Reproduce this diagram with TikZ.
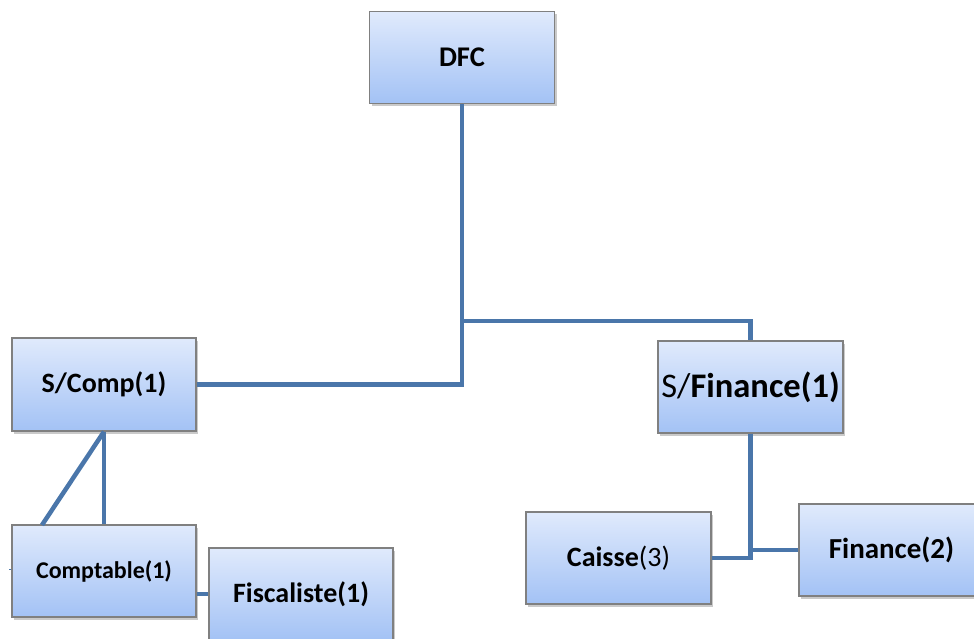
\documentclass[tikz,border=0pt]{standalone}
\usepackage{fontspec}
\setmainfont{Carlito}
\usetikzlibrary{shadows}
\definecolor{linkc}{HTML}{4A76AA}
\definecolor{boxtop}{HTML}{E0EAFC}
\definecolor{boxbot}{HTML}{A3C2F5}
\definecolor{boxline}{HTML}{808080}
\tikzset{
  orgbox/.style={draw=boxline, line width=1.2pt, top color=boxtop, bottom color=boxbot,
    minimum width=185pt, minimum height=92pt, inner sep=0pt, align=center,
    drop shadow={shadow xshift=2pt, shadow yshift=-3pt, opacity=0.35, fill=black!60}},
  link/.style={draw=linkc, line width=4.5pt},
}
\begin{document}
\begin{tikzpicture}[x=1pt,y=-1pt]
\useasboundingbox (0,0) rectangle (974,639);
\clip (0,0) rectangle (974,639);
\node[orgbox] (dfc) at (462,57.5) {\fontsize{28.5}{32}\selectfont\bfseries DFC};
\node[orgbox, minimum width=184pt, minimum height=93pt] (scomp) at (104,384.5) {\fontsize{28}{32}\selectfont\bfseries S/Comp(1)};
\node[orgbox, minimum width=184pt] (compt) at (104,571) {\fontsize{24}{28}\selectfont\bfseries Comptable(1)};
\node[orgbox, minimum width=184pt] (fisc) at (301,594) {\fontsize{28}{32}\selectfont\bfseries Fiscaliste(1)};
\node[orgbox] (sfin) at (750.5,387) {\fontsize{34.5}{40}\selectfont S/\textbf{Finance(1)}};
\node[orgbox] (caisse) at (618.5,558) {\fontsize{28}{32}\selectfont\textbf{Caisse}(3)};
\node[orgbox] (fin) at (891.5,550) {\fontsize{29}{34}\selectfont\bfseries Finance(2)};
\coordinate (j1) at (463,321);
\coordinate (d1) at (42,525);
\coordinate (stub) at (9,569);
\draw[link] (dfc.south) |- (scomp.east);
\draw[link] (j1) -| (sfin.north);
\draw[link] (scomp.south) -- (compt.north);
\draw[link] (scomp.south) -- (d1);
\draw[link] (fisc.west) -- (fisc.west -| compt.east);
\draw[link] (sfin.south) |- (caisse.east);
\draw[link] (sfin.south |- fin.west) -- (fin.west);
\draw[draw=linkc, line width=1pt] (stub) -- (stub -| compt.west);
\end{tikzpicture}
\end{document}
